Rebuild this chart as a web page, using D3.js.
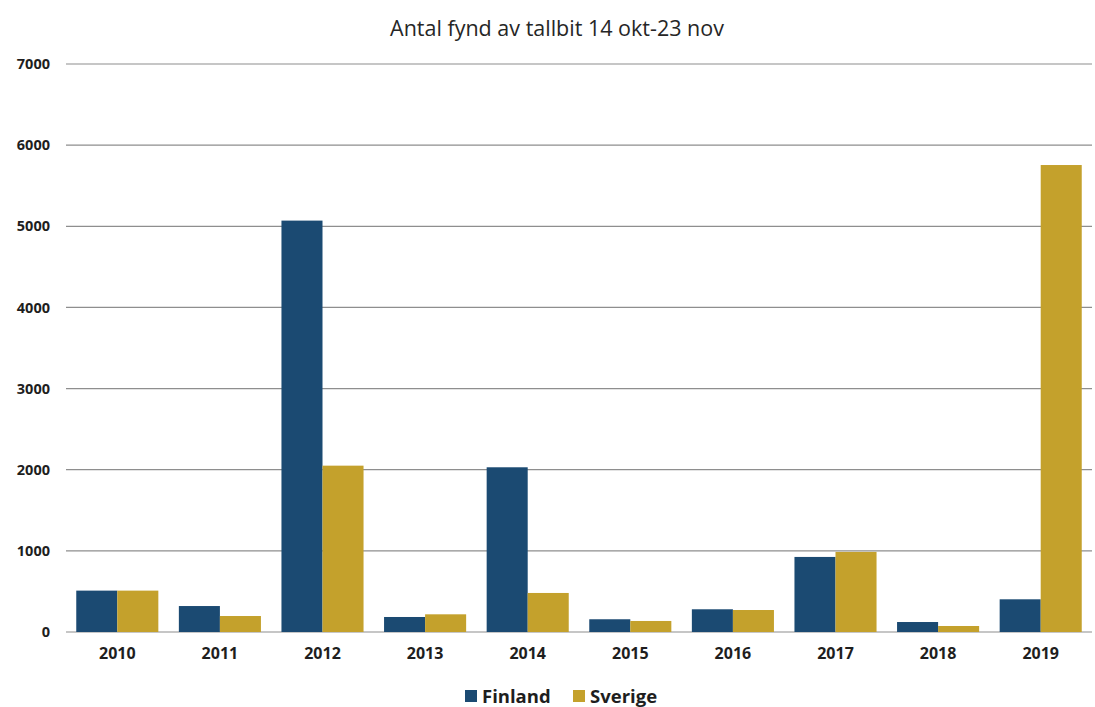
<!DOCTYPE html>
<html>
<head>
  <meta charset="UTF-8">
  <title>Antal fynd av tallbit</title>
  <script src="https://cdnjs.cloudflare.com/ajax/libs/d3/7.8.5/d3.min.js"></script>
  <style>
    body { margin: 0; background: #fff; }
    .tick text { font-family: "Open Sans", sans-serif; font-weight: bold; fill: #1e1e1e; }
  </style>
</head>
<body>
<script>
  var years = ["2010","2011","2012","2013","2014","2015","2016","2017","2018","2019"];
  var finland = [510, 320, 5070, 185, 2030, 157, 280, 925, 123, 403];
  var sverige = [510, 197, 2050, 218, 481, 136, 271, 987, 74, 5755];
  var seriesNames = ["Finland", "Sverige"];
  var colors = ["#1b4a72", "#c4a12c"];
  var yTicks = [0, 1000, 2000, 3000, 4000, 5000, 6000, 7000];

  var W = 1095, H = 707;
  // plot box (note: "top" is reserved on window, so use prefixed names)
  var plotL = 66, plotR = 1092, plotT = 64, plotB = 632;

  var svg = d3.select("body").append("svg")
    .attr("width", W)
    .attr("height", H);

  var x0 = d3.scaleBand().domain(years).range([plotL, plotR]).paddingInner(0.2).paddingOuter(0.1);
  var x1 = d3.scaleBand().domain(seriesNames).range([0, x0.bandwidth()]);
  var y = d3.scaleLinear().domain([0, 7000]).range([plotB, plotT]);

  // gridlines
  svg.append("g")
    .selectAll("line")
    .data(yTicks)
    .join("line")
    .attr("x1", plotL).attr("x2", plotR)
    .attr("y1", d => y(d)).attr("y2", d => y(d))
    .attr("stroke", "#8e8e8e")
    .attr("stroke-width", 1.2);

  // y axis labels
  var yAxis = svg.append("g")
    .attr("transform", "translate(" + (plotL - 16) + ",0)")
    .call(d3.axisLeft(y).tickValues(yTicks).tickSize(0).tickPadding(0).tickFormat(d3.format("d")));
  yAxis.select(".domain").remove();
  yAxis.selectAll("text").style("font-size", "14.5px");

  // bars
  var rows = years.map((yr, i) => ({ year: yr, vals: [finland[i], sverige[i]] }));
  svg.append("g")
    .selectAll("g")
    .data(rows)
    .join("g")
    .attr("transform", d => "translate(" + x0(d.year) + ",0)")
    .selectAll("rect")
    .data(d => d.vals.map((v, k) => ({ name: seriesNames[k], v: v, k: k })))
    .join("rect")
    .attr("x", d => x1(d.name))
    .attr("width", x1.bandwidth())
    .attr("y", d => y(d.v))
    .attr("height", d => y(0) - y(d.v))
    .attr("fill", d => colors[d.k]);

  // x axis labels
  var xAxis = svg.append("g")
    .attr("transform", "translate(0," + (plotB + 16) + ")")
    .call(d3.axisBottom(x0).tickSize(0).tickPadding(0));
  xAxis.select(".domain").remove();
  xAxis.selectAll("text").style("font-size", "16px");

  // title
  svg.append("text")
    .attr("x", 557).attr("y", 36)
    .attr("text-anchor", "middle")
    .style("font-family", "'Open Sans', sans-serif")
    .style("font-size", "21.5px")
    .style("fill", "#262626")
    .text("Antal fynd av tallbit 14 okt-23 nov");

  // legend
  var legendX = [465, 573];
  var lg = svg.append("g").selectAll("g")
    .data(seriesNames)
    .join("g")
    .attr("transform", (d, i) => "translate(" + legendX[i] + ",690)");
  lg.append("rect")
    .attr("width", 12).attr("height", 12)
    .attr("fill", (d, i) => colors[i]);
  lg.append("text")
    .attr("x", 17).attr("y", 13)
    .style("font-family", "'Open Sans', sans-serif")
    .style("font-weight", "bold")
    .style("font-size", "18.5px")
    .style("fill", "#1e1e1e")
    .text(d => d);
</script>
</body>
</html>
